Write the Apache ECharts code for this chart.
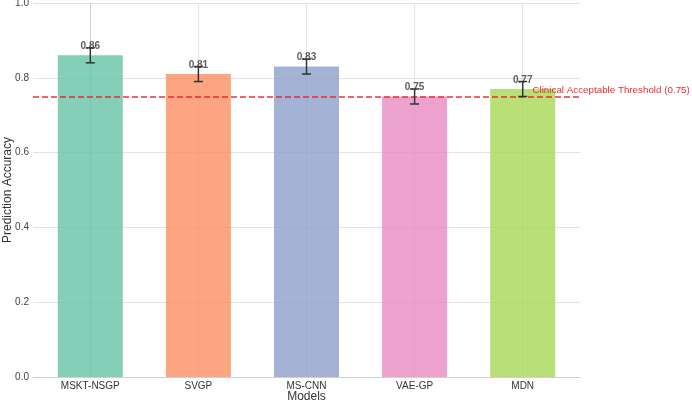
<!DOCTYPE html>
<html>
<head>
<meta charset="utf-8">
<script src="https://cdn.jsdelivr.net/npm/echarts@6/dist/echarts.min.js"></script>
<style>
  html, body { margin: 0; padding: 0; background: #fff; }
  #main { width: 692px; height: 403px; }
</style>
</head>
<body>
<div id="main"></div>
<script>
  // data
  var models = ['MSKT-NSGP', 'SVGP', 'MS-CNN', 'VAE-GP', 'MDN'];
  var accuracy = [0.86, 0.81, 0.83, 0.75, 0.77];
  var errors = [0.02, 0.02, 0.02, 0.02, 0.02];
  var colors = ['#66c2a5', '#fc8d62', '#8da0cb', '#e78ac3', '#a6d854'];
  var yTicks = [0, 0.2, 0.4, 0.6, 0.8, 1.0];
  var threshold = 0.75;
  var thresholdText = 'Clinical Acceptable Threshold (0.75)';

  var font = 'Liberation Sans, Arial, sans-serif';
  var myChart = echarts.init(document.getElementById('main'));

  var barData = models.map(function (m, i) {
    return { value: [i, accuracy[i]], itemStyle: { color: colors[i], opacity: 0.8 } };
  });
  var errData = models.map(function (m, i) {
    return [i, accuracy[i] - errors[i], accuracy[i] + errors[i]];
  });
  var xPos = models.map(function (m, i) { return i; });

  myChart.setOption({
    animation: false,
    textStyle: { fontFamily: font },
    grid: { left: 33, right: 112, top: 3, bottom: 26, outerBoundsMode: 'none', containLabel: false },
    xAxis: {
      type: 'value',
      min: -0.53,
      max: 4.53,
      name: 'Models',
      nameLocation: 'middle',
      nameGap: 14,
      nameMoveOverlap: false,
      nameTextStyle: { color: '#333', fontSize: 12, fontFamily: font },
      axisLine: { show: true, lineStyle: { color: '#d0d0d0' } },
      axisTick: { show: false, customValues: xPos },
      axisLabel: {
        customValues: xPos,
        color: '#333',
        fontSize: 10,
        margin: 4,
        formatter: function (v) { return models[Math.round(v)]; }
      },
      splitLine: { show: true, lineStyle: { color: '#e3e3e3', width: 1 } }
    },
    yAxis: {
      type: 'value',
      min: 0,
      max: 1.0,
      interval: 0.2,
      name: 'Prediction Accuracy',
      nameLocation: 'middle',
      nameGap: 19,
      nameMoveOverlap: false,
      nameTextStyle: { color: '#333', fontSize: 12, fontFamily: font },
      axisLine: { show: true, lineStyle: { color: '#d0d0d0' } },
      axisTick: { show: false },
      axisLabel: {
        color: '#444',
        fontSize: 10,
        margin: 4,
        formatter: function (v) { return v.toFixed(1); }
      },
      splitLine: { show: true, lineStyle: { color: '#e3e3e3', width: 1 } }
    },
    series: [
      {
        type: 'bar',
        barWidth: 65,
        data: barData,
        z: 2,
        label: {
          show: true,
          position: 'top',
          distance: 4,
          color: '#333',
          fontSize: 10,
          fontWeight: 'bold',
          formatter: function (p) { return p.value[1].toFixed(2); }
        },
        markLine: {
          silent: true,
          symbol: 'none',
          label: { show: false },
          lineStyle: { color: 'rgba(235,30,35,0.9)', type: [6, 3], width: 1.5 },
          data: [{ yAxis: threshold }]
        },
        markPoint: {
          silent: true,
          symbol: 'circle',
          symbolSize: 0,
          data: [{ coord: [4.09, 0.767] }],
          label: {
            show: true,
            position: 'right',
            distance: 0,
            color: 'rgba(235,30,35,0.95)',
            fontSize: 9.8,
            formatter: thresholdText
          }
        }
      },
      {
        type: 'custom',
        z: 5,
        data: errData,
        renderItem: function (params, api) {
          var x = api.value(0);
          var lo = api.coord([x, api.value(1)]);
          var hi = api.coord([x, api.value(2)]);
          var cap = 4.5;
          var style = { stroke: '#333', lineWidth: 1.5 };
          return {
            type: 'group',
            children: [
              { type: 'line', shape: { x1: lo[0], y1: lo[1], x2: hi[0], y2: hi[1] }, style: style },
              { type: 'line', shape: { x1: lo[0] - cap, y1: lo[1], x2: lo[0] + cap, y2: lo[1] }, style: style },
              { type: 'line', shape: { x1: hi[0] - cap, y1: hi[1], x2: hi[0] + cap, y2: hi[1] }, style: style }
            ]
          };
        }
      }
    ]
  });
</script>
</body>
</html>
